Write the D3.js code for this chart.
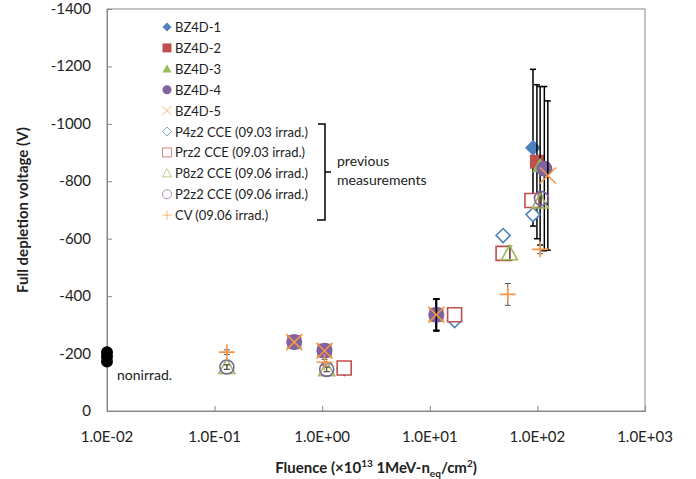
<!DOCTYPE html>
<html>
<head>
<meta charset="utf-8">
<script src="https://cdn.jsdelivr.net/npm/d3@7"></script>
<style>
  body { margin: 0; background: #fff; }
  svg { font-family: Lato, "Open Sans", sans-serif; }
</style>
</head>
<body>
<svg width="696" height="479"></svg>
<script>
// fluence (x10^13), voltage (V), error (V)
var bz1F = [0.55, 1.05, 11.5, 91],  bz1V = [-240, -210, -335, -917], bz1E = [0, 0, 55, 273];
var bz2F = [0.55, 1.05, 11.5, 99],  bz2V = [-240, -210, -335, -868], bz2E = [0, 0, 55, 268];
var bz3F = [0.55, 1.05, 11.5, 106], bz3V = [-240, -210, -335, -854], bz3E = [0, 0, 55, 276];
var bz4F = [0.55, 1.05, 11.5, 116], bz4V = [-240, -210, -335, -844], bz4E = [0, 0, 55, 286];
var bz5F = [0.55, 1.05, 11.5, 125], bz5V = [-240, -210, -335, -820], bz5E = [0, 0, 55, 260];
var p4F = [1.6, 17, 48, 91],   p4V = [-148, -315, -611, -684], p4E = [8, 8, 0, 0];
var prF = [1.6, 17, 48, 89],   prV = [-150, -335, -549, -733], prE = [8, 15, 0, 0];
var p8F = [0.13, 1.1, 55, 106], p8V = [-153, -145, -549, -729], p8E = [8, 8, 25, 20];
var p2F = [0.13, 1.1, 109],     p2V = [-153, -145, -740],       p2E = [8, 8, 25];
var cvF = [0.13, 1.05, 53, 106], cvV = [-205, -170, -406, -563], cvE = [8, 10, 38, 15];
var nonF = [0.01, 0.01, 0.01], nonV = [-205, -190, -172];

var xTicks = [0.01, 0.1, 1, 10, 100, 1000];
var yTicks = [0, -200, -400, -600, -800, -1000, -1200, -1400];

var svg = d3.select("svg");
var x = d3.scaleLog().domain([0.01, 1000]).range([107, 645]);
var y = d3.scaleLinear().domain([0, -1400]).range([411, 9]);

// marker shapes
function shape(type, s) {
  if (type == "diamond") return "M0," + (-s) + "L" + s + ",0L0," + s + "L" + (-s) + ",0Z";
  if (type == "square") return "M" + (-s) + "," + (-s) + "H" + s + "V" + s + "H" + (-s) + "Z";
  if (type == "triangle") return "M0," + (-s) + "L" + s + "," + (s * 0.8) + "H" + (-s) + "Z";
  if (type == "circle") return "M" + (-s) + ",0A" + s + "," + s + " 0 1,0 " + s + ",0A" + s + "," + s + " 0 1,0 " + (-s) + ",0Z";
  if (type == "x") return "M" + (-s) + "," + (-s) + "L" + s + "," + s + "M" + (-s) + "," + s + "L" + s + "," + (-s);
  if (type == "plus") return "M" + (-s) + ",0H" + s + "M0," + (-s) + "V" + s;
}

var series = [
  {name: "BZ4D-1", f: bz1F, v: bz1V, e: bz1E, type: "diamond", fill: "#4F81BD", stroke: "none", size: 8, ec: "#000"},
  {name: "BZ4D-2", f: bz2F, v: bz2V, e: bz2E, type: "square", fill: "#C0504D", stroke: "none", size: 7, ec: "#000"},
  {name: "BZ4D-3", f: bz3F, v: bz3V, e: bz3E, type: "triangle", fill: "#9BBB59", stroke: "none", size: 8, ec: "#000"},
  {name: "BZ4D-4", f: bz4F, v: bz4V, e: bz4E, type: "circle", fill: "#8064A2", stroke: "none", size: 8, ec: "#000"},
  {name: "BZ4D-5", f: bz5F, v: bz5V, e: bz5E, type: "x", fill: "none", stroke: "#F79646", size: 8, ec: "#000"},
  {name: "P4z2 CCE (09.03 irrad.)", f: p4F, v: p4V, e: p4E, type: "diamond", fill: "#fff", stroke: "#4F81BD", size: 7, ec: "#555"},
  {name: "Prz2 CCE (09.03 irrad.)", f: prF, v: prV, e: prE, type: "square", fill: "#fff", stroke: "#C0504D", size: 7, ec: "#555"},
  {name: "P8z2 CCE (09.06 irrad.)", f: p8F, v: p8V, e: p8E, type: "triangle", fill: "none", stroke: "#9BBB59", size: 8, ec: "#555"},
  {name: "P2z2 CCE (09.06 irrad.)", f: p2F, v: p2V, e: p2E, type: "circle", fill: "none", stroke: "#8064A2", size: 7, ec: "#555"},
  {name: "CV (09.06 irrad.)", f: cvF, v: cvV, e: cvE, type: "plus", fill: "none", stroke: "#F79646", size: 8, ec: "#555"}
];

// plot frame
svg.append("rect").attr("x", 107).attr("y", 9).attr("width", 538).attr("height", 402)
  .attr("fill", "none").attr("stroke", "#888").attr("stroke-width", 1);

// axes, ticks inside
var xAxis = svg.append("g").attr("transform", "translate(0,411)")
  .call(d3.axisTop(x).tickValues(xTicks).tickSize(5).tickFormat(""));
xAxis.select(".domain").attr("stroke", "#888");
xAxis.selectAll(".tick line").attr("stroke", "#888");
svg.selectAll(".xlab").data(xTicks).enter().append("text")
  .attr("x", function(d) { return x(d); }).attr("y", 442)
  .attr("text-anchor", "middle").attr("font-size", 15).attr("fill", "#222")
  .text(function(d) { var p = Math.round(Math.log10(d)); return "1.0E" + (p < 0 ? "-" : "+") + (Math.abs(p) < 10 ? "0" : "") + Math.abs(p); });

var yAxis = svg.append("g").attr("transform", "translate(107,0)")
  .call(d3.axisRight(y).tickValues(yTicks).tickSize(5).tickFormat(""));
yAxis.select(".domain").attr("stroke", "#888");
yAxis.selectAll(".tick line").attr("stroke", "#888");
svg.selectAll(".ylab").data(yTicks).enter().append("text")
  .attr("x", 91).attr("y", function(d) { return y(d) + 5; })
  .attr("text-anchor", "end").attr("font-size", 15).attr("fill", "#222")
  .text(function(d) { return d == 0 ? "0" : "-" + Math.abs(d); });

// axis titles
svg.append("text").attr("transform", "translate(28,210) rotate(-90)")
  .attr("text-anchor", "middle").attr("font-size", 15).attr("font-weight", "bold").attr("fill", "#222")
  .text("Full depletion voltage (V)");
var xt = svg.append("text").attr("x", 376).attr("y", 473)
  .attr("text-anchor", "middle").attr("font-size", 15).attr("font-weight", "bold").attr("fill", "#222");
xt.append("tspan").text("Fluence (×10");
xt.append("tspan").attr("font-size", 10).attr("dy", -6).text("13");
xt.append("tspan").attr("dy", 6).text(" 1MeV-n");
xt.append("tspan").attr("font-size", 10).attr("dy", 4).text("eq");
xt.append("tspan").attr("dy", -4).text("/cm");
xt.append("tspan").attr("font-size", 10).attr("dy", -6).text("2");
xt.append("tspan").attr("dy", 6).text(")");

// nonirradiated points
svg.selectAll(".non").data(nonF).enter().append("circle")
  .attr("cx", function(d) { return x(d); })
  .attr("cy", function(d, i) { return y(nonV[i]); })
  .attr("r", 6).attr("fill", "#000");
svg.append("text").attr("x", 117).attr("y", 380).attr("font-size", 14).attr("fill", "#222").text("nonirrad.");

// series: error bars then markers
series.forEach(function(s) {
  var g = svg.append("g");
  s.f.forEach(function(f, i) {
    if (s.e[i] > 0) {
      var cx = x(f), y1 = y(s.v[i] - s.e[i]), y2 = y(s.v[i] + s.e[i]);
      var sw = s.ec == "#000" ? 1.5 : 1;
      g.append("line").attr("x1", cx).attr("x2", cx).attr("y1", y1).attr("y2", y2).attr("stroke", s.ec).attr("stroke-width", sw);
      g.append("line").attr("x1", cx - 3).attr("x2", cx + 3).attr("y1", y1).attr("y2", y1).attr("stroke", s.ec).attr("stroke-width", sw);
      g.append("line").attr("x1", cx - 3).attr("x2", cx + 3).attr("y1", y2).attr("y2", y2).attr("stroke", s.ec).attr("stroke-width", sw);
    }
  });
  g.selectAll("path").data(s.f).enter().append("path")
    .attr("transform", function(d, i) { return "translate(" + x(d) + "," + y(s.v[i]) + ")"; })
    .attr("d", shape(s.type, s.size))
    .attr("fill", s.fill).attr("stroke", s.stroke).attr("stroke-width", 1.6);
});

// legend
var leg = svg.append("g");
series.forEach(function(s, i) {
  var ly = 27 + i * 20.9;
  leg.append("path").attr("transform", "translate(167," + ly + ")")
    .attr("d", shape(s.type, 4.5))
    .attr("fill", s.fill == "none" ? "none" : s.fill).attr("stroke", s.stroke).attr("stroke-width", 1)
    .attr("opacity", i >= 4 ? 0.7 : 1);
  leg.append("text").attr("x", 175).attr("y", ly + 5).attr("font-size", 13).attr("fill", "#222").text(s.name);
});

// bracket for previous measurements
svg.append("path").attr("d", "M318,124H325V220H317M325,172H331")
  .attr("fill", "none").attr("stroke", "#000").attr("stroke-width", 1.5);
svg.append("text").attr("x", 337).attr("y", 166).attr("font-size", 14).attr("fill", "#222").text("previous");
svg.append("text").attr("x", 337).attr("y", 185).attr("font-size", 14).attr("fill", "#222").text("measurements");
</script>
</body>
</html>
